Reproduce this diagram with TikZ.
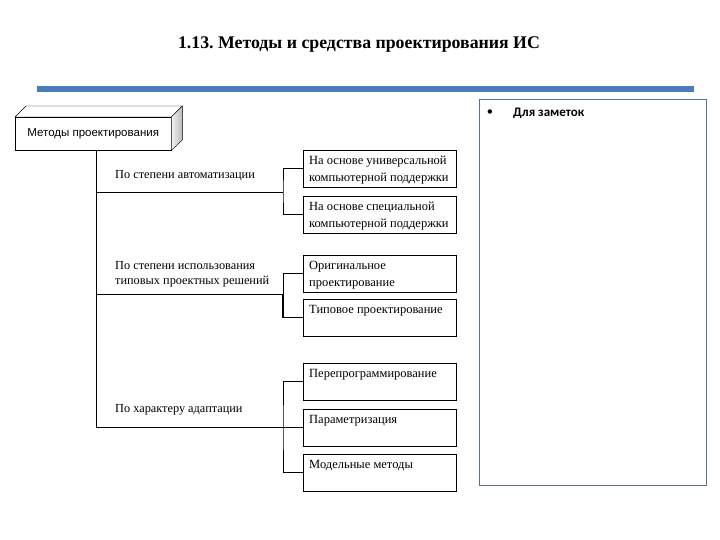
\documentclass[tikz,border=0pt]{standalone}
\usepackage{fontspec}
\setmainfont{Liberation Serif}
\newfontfamily\arialfont{Liberation Sans}
\newfontfamily\calibrifont{Carlito}
\usetikzlibrary{positioning}
\definecolor{barblue}{RGB}{74,126,187}
\definecolor{noteframe}{RGB}{90,115,140}
\frenchspacing

\newcommand{\boxtext}[1]{\parbox[c][29pt][t]{141pt}{\vspace*{2pt}#1}}

\begin{document}
\begin{tikzpicture}[x=1pt, y=-1pt,
    every node/.style={font=\fontsize{12.5}{17}\selectfont, inner sep=0pt},
    method/.style={draw, anchor=north west, minimum width=153pt, minimum height=37pt, inner xsep=6pt, inner ysep=4pt, align=left},
    kind/.style={anchor=west, align=left, font=\fontsize{12.3}{15}\selectfont},
    trunk/.style={line width=1.4pt},
    link/.style={line width=0.7pt}
  ]
    \useasboundingbox (0,0) rectangle (720,540);

    \node (title) at (359,45) {\fontsize{17.8}{20}\selectfont\bfseries 1.13. Методы и средства проектирования ИС};
    \fill[barblue] (37,86) rectangle (694,92);

    % notes panel
    \node (notes) [draw=noteframe, line width=0.8pt, anchor=north west, minimum width=227pt, minimum height=386pt] at (479,99) {};
    \node (bullet) at (490,113) {\calibrifont\textbullet};
    \node (notetitle) [anchor=west] at (513,113) {\calibrifont\fontsize{13}{15}\selectfont\bfseries Для заметок};

    % root box
    \node (root) [draw, fill=white, anchor=north west, minimum width=156pt, minimum height=33pt, font=\arialfont\fontsize{11.5}{14}\selectfont] at (15,117) {Методы проектирования\\[-4pt]};
    \draw[fill=white] (root.north west) -- ++(11,-11) -- ++(156,0) -- (root.north east) -- cycle;
    \draw[left color=gray!10, right color=gray!55] (root.north east) -- ++(11,-11) -- ++(0,34) -- (root.south east) -- cycle;

    % kinds of methods
    \node (auto) [kind] at (115,176) {По степени автоматизации};
    \node (reuse) [kind] at (115,274) {По степени использования\\типовых проектных решений};
    \node (adapt) [kind] at (115,410) {По характеру адаптации};

    % methods
    \node (univ) [method] at (303,150) {\boxtext{На основе универсальной\\компьютерной поддержки}};
    \node (spec) [method] at (303,196) {\boxtext{На основе специальной\\компьютерной поддержки}};
    \node (orig) [method] at (303,255) {\boxtext{Оригинальное\\проектирование}};
    \node (typ) [method] at (303,299) {\boxtext{Типовое проектирование}};
    \node (reprog) [method] at (303,363) {\boxtext{Перепрограммирование}};
    \node (param) [method] at (303,409) {\boxtext{Параметризация}};
    \node (model) [method] at (303,454) {\boxtext{Модельные методы}};

    \coordinate (trunktop) at ([xshift=3pt]root.south);
    \coordinate (fork1) at (283,192);
    \coordinate (fork2) at (283,294);
    \coordinate (fork3) at ([xshift=-20pt]param.west);

    \draw[trunk] (trunktop) |- (fork3);
    \draw[link] (trunktop |- fork1) -- (fork1);
    \draw[link] (trunktop |- fork2) -- (fork2);

    \draw[link] (univ.west) -| (fork1) |- (spec.west);
    \draw[link] (orig.west) -| (fork2);
    \draw[trunk] (fork2) |- (typ.west);
    \draw[link] (reprog.west) -| (fork3) |- (model.west);
    \draw[link] (fork3) -- (param.west);
  \end{tikzpicture}
\end{document}
